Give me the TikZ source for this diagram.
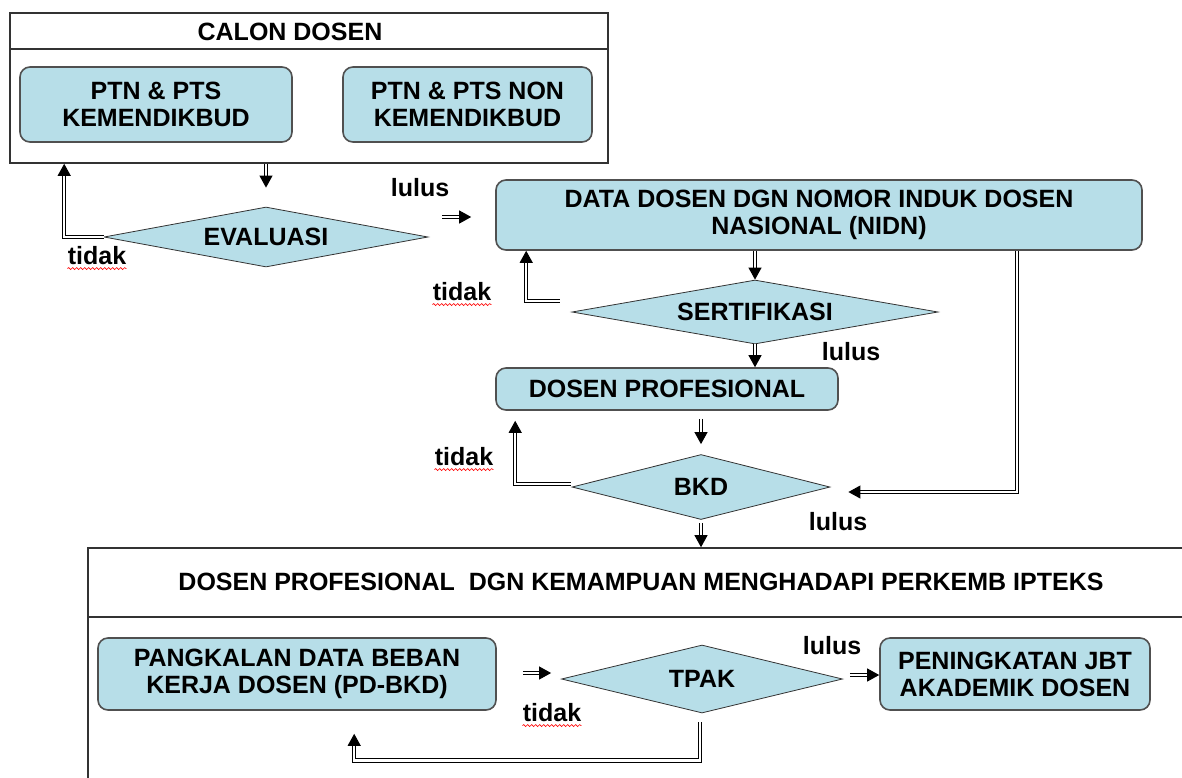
\documentclass[tikz,border=0pt]{standalone}
\usepackage{fontspec}
\setmainfont{Liberation Sans}
\usetikzlibrary{arrows.meta,shapes.geometric,decorations.pathmorphing,calc}
\definecolor{boxfill}{HTML}{B7DEE8}
\definecolor{boxline}{HTML}{505050}

\begin{document}
\begin{tikzpicture}[x=0.5pt,y=-0.5pt,font=\fontsize{12.5}{13.5}\selectfont\bfseries]

	\tikzstyle process box=[draw=boxline, fill=boxfill, rounded corners=5pt, align=center, inner sep=0pt, thick];
	\tikzstyle decision=[diamond, draw=black!80, fill=boxfill, inner sep=0pt, aspect=5];
	\tikzstyle frame=[draw=black!80, thick];
	\tikzstyle flow=[double=white, double distance=1.2pt, line width=0.5pt, -{Triangle[length=6pt,width=6.5pt]}];
	\tikzstyle typo=[red, line width=0.3pt, decorate, decoration={snake, amplitude=0.5pt, segment length=2pt}];

	\useasboundingbox (0,0) rectangle (1182,777);
	\clip (0,0) rectangle (1182,777);

	% calon dosen
	\node[frame, minimum width=299pt, minimum height=75pt, inner sep=0pt] (calon) at (309,88) {};
		\draw[frame] ($(calon.north west)+(0,37)$) -- ($(calon.north east)+(0,37)$);
		\node (calontitle) at (290,32) {CALON DOSEN};
		\node[process box, minimum width=136pt, minimum height=37.5pt] (ptn) at (156,104.5) {PTN \& PTS\\KEMENDIKBUD};
		\node[process box, minimum width=124.5pt, minimum height=37.5pt] (ptsnon) at (467.5,104.5) {PTN \& PTS NON\\KEMENDIKBUD};

	\node[decision, minimum width=162pt, minimum height=30pt] (eval) at (266,237) {EVALUASI};
	\node[process box, minimum width=323pt, minimum height=35pt] (nidn) at (819,215) {DATA DOSEN DGN NOMOR INDUK DOSEN\\NASIONAL (NIDN)};
	\node[decision, minimum width=183pt, minimum height=32pt] (sert) at (755,312) {SERTIFIKASI};
	\node[process box, minimum width=171pt, minimum height=21pt] (prof) at (667,389) {DOSEN PROFESIONAL};
	\node[decision, minimum width=129pt, minimum height=32.5pt] (bkd) at (701,487) {BKD};

	% dosen profesional ipteks
	\node[frame, minimum width=571pt, minimum height=141pt, inner sep=0pt] (ipteks) at (659,689) {};
		\draw[frame] ($(ipteks.north west)+(0,70)$) -- ($(ipteks.north east)+(0,70)$);
		\node (iptekstitle) at (641,582) {DOSEN PROFESIONAL~ DGN KEMAMPUAN MENGHADAPI PERKEMB IPTEKS};
		\node[process box, minimum width=199pt, minimum height=36pt] (pd) at (297,674) {PANGKALAN DATA BEBAN\\KERJA DOSEN (PD-BKD)};
		\node[decision, minimum width=140.5pt, minimum height=34pt] (tpak) at (702,679) {TPAK};
		\node[process box, minimum width=135pt, minimum height=36pt] (jbt) at (1015,674) {PENINGKATAN JBT\\AKADEMIK DOSEN};

	% arrows
	\draw[flow] (calon.south -| eval.north) -- ($(eval.north)+(0,-19)$);
	\draw[flow] (eval.west) -| ($(calon.south west)+(55,0)$);
	\draw[flow] ($(nidn.west)+(-53,2)$) -- ($(nidn.west)+(-24,2)$);
	\draw[flow] (nidn.south -| sert.north) -- (sert.north);
	\draw[flow] ($(sert.west)+(-12,-11)$) -| ($(nidn.south west)+(31,0)$);
	\draw[flow] (sert.south) -- (prof.north -| sert.south);
	\draw[flow] ($(prof.south -| bkd.north)+(0,8)$) -- ($(bkd.north)+(0,-10)$);
	\draw[flow] ($(bkd.west)+(-1,-3)$) -| ($(prof.south west)+(20,10)$);
	\draw[flow] ($(nidn.south east)+(-126,0)$) |- ($(bkd.east)+(18,5)$);
	\draw[flow] ($(bkd.south)+(0,3)$) -- (bkd.south |- ipteks.north);
	\draw[flow] ($(pd.east)+(26,-1)$) -- ($(tpak.west)+(-10,-6)$);
	\draw[flow] ($(tpak.east)+(7,-4)$) -- ($(jbt.west)+(0,1)$);
	\draw[flow] ($(tpak.south)+(-2,9)$) -- ($(tpak.south)+(-2,47)$) -| ($(pd.south west)+(257,23)$);

	% labels
	\foreach \x/\y [count=\i] in {420/188,851/352,838/522,832/646}
		\node[inner sep=0pt] (lulus\i) at (\x,\y) {lulus};
	\foreach \x/\y [count=\i] in {97/256,462/292,464/457,552/713}
	{
		\node[inner sep=0pt] (tidak\i) at (\x,\y) {tidak};
		\draw[typo] ([yshift=-1.5pt]tidak\i.south west) -- ([yshift=-1.5pt]tidak\i.south east);
	}

\end{tikzpicture}
\end{document}
